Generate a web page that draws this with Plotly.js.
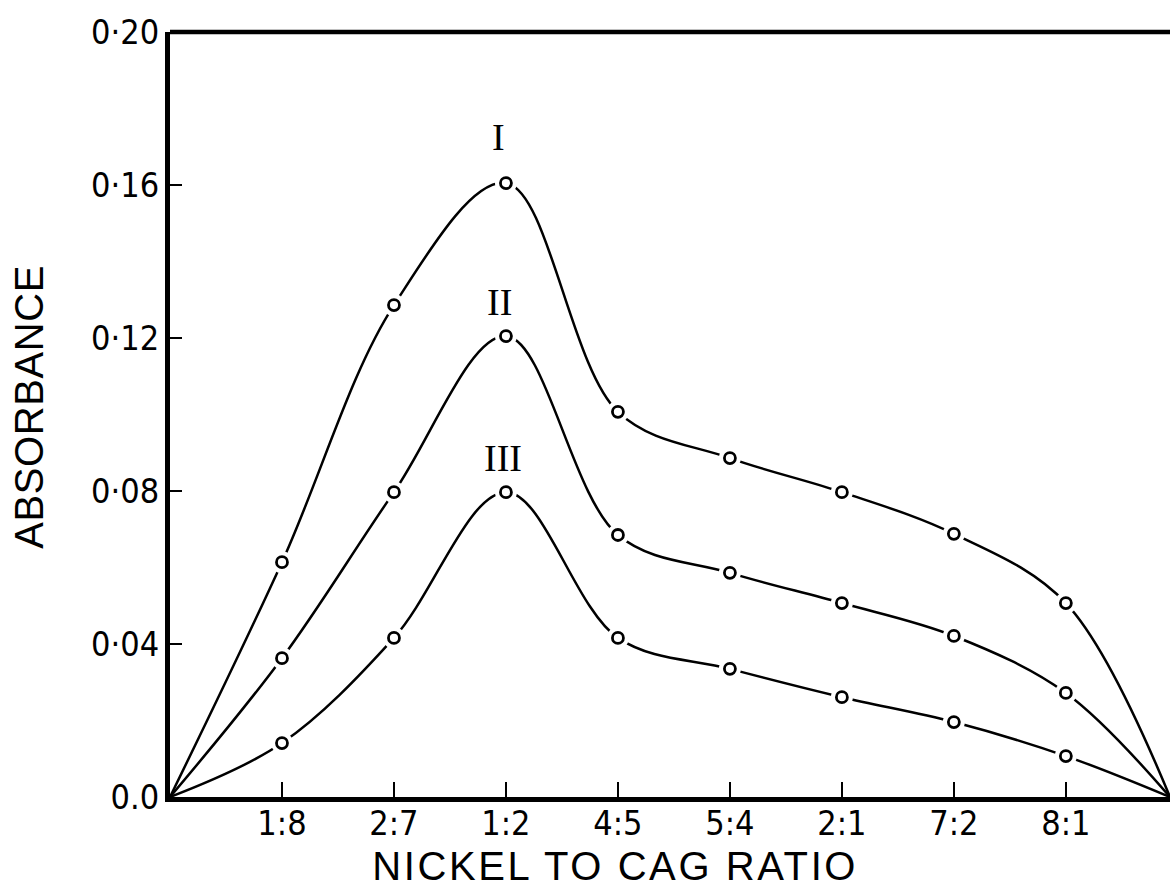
<!DOCTYPE html>
<html>
<head>
<meta charset="utf-8">
<script src="https://cdn.plot.ly/plotly-3.0.1.min.js"></script>
<style>
  html, body { margin: 0; padding: 0; background: #ffffff; }
  #chart { width: 1170px; height: 893px; }
  .annotation[data-index="0"] .annotation-text { letter-spacing: 2.6px; }
  .annotation[data-index="1"] .annotation-text { letter-spacing: 0.6px; }
</style>
</head>
<body>
<div id="chart"></div>
<script>
// Category positions along the x axis (0 = origin, last = far end of the mixing series)
const xPos = [0, 1, 2, 3, 4, 5, 6, 7, 8, 8.93];
// Tick labels (nickel : CAG ratio)
const ratios = ['1:8', '2:7', '1:2', '4:5', '5:4', '2:1', '7:2', '8:1'];
const ratioPos = [1, 2, 3, 4, 5, 6, 7, 8];
// Absorbance series
const curveI   = [0, 0.0614, 0.1286, 0.1605, 0.1007, 0.0886, 0.0797, 0.0688, 0.0507, 0];
const curveII  = [0, 0.0363, 0.0797, 0.1205, 0.0685, 0.0586, 0.0507, 0.0421, 0.0272, 0];
const curveIII = [0, 0.0141, 0.0416, 0.0797, 0.0416, 0.0335, 0.0261, 0.0196, 0.0107, 0];
// Y axis ticks
const yTickVals = [0, 0.04, 0.08, 0.12, 0.16, 0.20];
const yTickText = ['0.0', '0·04', '0·08', '0·12', '0·16', '0·20'];
// Curve names
const curveNames = ['I', 'II', 'III'];

const series = [curveI, curveII, curveIII];
const traces = [];
series.forEach(function (ys, i) {
  traces.push({
    x: xPos, y: ys, type: 'scatter', mode: 'lines', name: curveNames[i],
    line: { color: '#000000', width: 2.5, shape: 'spline', smoothing: 1 },
    hoverinfo: 'skip', showlegend: false
  });
});
series.forEach(function (ys, i) {
  const mx = xPos.slice(1, -1), my = ys.slice(1, -1);
  traces.push({
    x: mx, y: my, type: 'scatter', mode: 'markers',
    marker: { symbol: 'circle', size: 22, color: '#ffffff', line: { width: 0 } },
    hoverinfo: 'skip', showlegend: false, cliponaxis: false
  });
  traces.push({
    x: mx, y: my, type: 'scatter', mode: 'markers',
    marker: { symbol: 'circle', size: 11, color: '#ffffff', line: { width: 2.8, color: '#000000' } },
    hoverinfo: 'skip', showlegend: false, cliponaxis: false
  });
});

const tickFont = { family: '"Liberation Sans Narrow", "DejaVu Sans Condensed", "Liberation Sans", sans-serif', size: 34, color: '#000000' };
const titleFont = { family: '"Liberation Sans", Arial, sans-serif', size: 40, color: '#000000' };
const romanFont = { family: '"Liberation Serif", "DejaVu Serif", serif', size: 38, color: '#000000' };

const layout = {
  width: 1170, height: 893,
  margin: { l: 170, r: 0, t: 32, b: 96, pad: 0 },
  paper_bgcolor: '#ffffff', plot_bgcolor: '#ffffff',
  showlegend: false,
  xaxis: {
    range: [0, 8.93], showgrid: false, zeroline: false,
    showline: true, linecolor: '#000000', linewidth: 5,
    ticks: 'inside', ticklen: 15, tickwidth: 2, tickcolor: '#000000',
    tickvals: ratioPos, ticktext: ratios, tickfont: tickFont,
    ticklabelstandoff: -8, fixedrange: true
  },
  yaxis: {
    range: [0, 0.2], showgrid: false, zeroline: false,
    showline: true, linecolor: '#000000', linewidth: 5,
    ticks: 'inside', ticklen: 12, tickwidth: 2, tickcolor: '#000000',
    tickvals: yTickVals, ticktext: yTickText, tickfont: tickFont,
    ticklabelstandoff: -1, fixedrange: true
  },
  shapes: [
    { type: 'line', xref: 'paper', yref: 'paper', x0: 0, x1: 1, y0: 1, y1: 1,
      line: { color: '#000000', width: 4.5 } }
  ],
  annotations: [
    { text: 'NICKEL TO CAG RATIO', xref: 'paper', yref: 'paper', x: 0.445, y: -0.09,
      xanchor: 'center', yanchor: 'middle', showarrow: false, font: titleFont },
    { text: 'ABSORBANCE', xref: 'paper', yref: 'paper', x: -0.141, y: 0.51,
      xanchor: 'center', yanchor: 'middle', textangle: -90, showarrow: false, font: titleFont },
    { text: curveNames[0], x: 3, y: 0.1725, xref: 'x', yref: 'y', showarrow: false, font: romanFont, xshift: -7 },
    { text: curveNames[1], x: 3, y: 0.1295, xref: 'x', yref: 'y', showarrow: false, font: romanFont, xshift: -6 },
    { text: curveNames[2], x: 3, y: 0.0885, xref: 'x', yref: 'y', showarrow: false, font: romanFont, xshift: -3 }
  ]
};

Plotly.newPlot('chart', traces, layout, { displayModeBar: false, staticPlot: true });
</script>
</body>
</html>
